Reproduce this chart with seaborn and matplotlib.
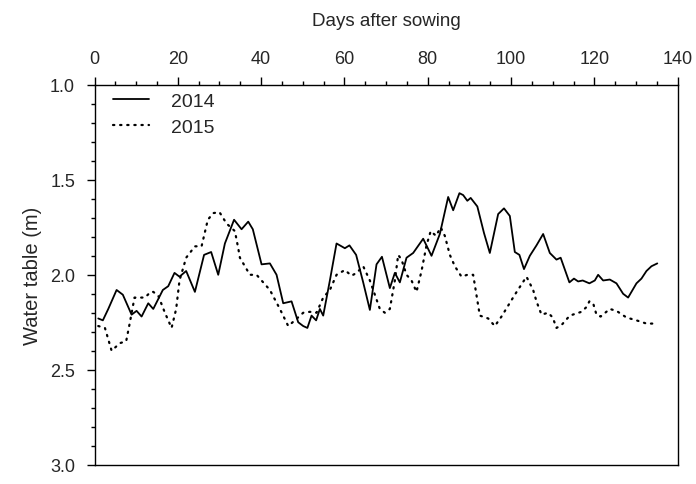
import matplotlib
matplotlib.use("Agg")
import matplotlib.pyplot as plt
from matplotlib.ticker import MultipleLocator
import seaborn as sns

# Water table depth (m) by days after sowing
days_2014 = [0.9, 2.0, 3.3, 5.3, 6.8, 8.9, 10.1, 11.3, 12.9, 14.1, 16.4, 17.7, 19.2, 20.4,
             22.0, 24.1, 26.3, 28.0, 29.7, 31.3, 33.5, 35.3, 36.9, 38.0, 40.1, 42.1, 43.7,
             45.3, 47.3, 48.9, 50.1, 51.1, 52.1, 53.2, 54.1, 54.9, 56.5, 58.1, 60.1, 61.2,
             62.8, 64.5, 66.1, 67.7, 69.0, 70.9, 72.1, 73.3, 74.9, 76.5, 78.9, 80.9, 82.9,
             84.9, 86.1, 87.6, 88.5, 89.5, 90.3, 91.9, 93.5, 94.9, 96.9, 98.3, 99.7, 100.9,
             102.0, 103.1, 104.5, 106.1, 107.7, 109.3, 110.9, 111.9, 114.0, 115.1, 116.1,
             117.2, 118.8, 120.1, 120.9, 122.1, 123.7, 125.3, 126.9, 128.1, 130.1, 131.3,
             132.5, 133.7, 135.1]
depth_2014 = [2.23, 2.24, 2.18, 2.08, 2.105, 2.21, 2.19, 2.22, 2.15, 2.18, 2.08, 2.06, 1.99, 2.01,
              1.98, 2.09, 1.895, 1.88, 2.00, 1.835, 1.71, 1.76, 1.72, 1.76, 1.945, 1.94, 2.00,
              2.15, 2.14, 2.25, 2.27, 2.28, 2.215, 2.24, 2.18, 2.215, 2.03, 1.835, 1.86, 1.845,
              1.895, 2.04, 2.185, 1.945, 1.905, 2.07, 1.99, 2.04, 1.91, 1.885, 1.81, 1.90, 1.785,
              1.59, 1.66, 1.57, 1.58, 1.61, 1.595, 1.64, 1.78, 1.885, 1.68, 1.65, 1.69, 1.88,
              1.895, 1.97, 1.90, 1.845, 1.785, 1.885, 1.92, 1.91, 2.04, 2.02, 2.035,
              2.03, 2.045, 2.03, 2.00, 2.03, 2.025, 2.045, 2.10, 2.12, 2.045, 2.02,
              1.98, 1.955, 1.94]

days_2015 = [0.9, 2.5, 4.1, 6.1, 7.6, 8.5, 9.6, 12.1, 13.5, 14.1, 15.3, 16.9, 18.5, 19.6,
             20.4, 22.0, 24.1, 25.7, 27.2, 28.5, 30.0, 31.7, 33.7, 34.5, 34.9, 37.3, 38.9,
             42.1, 44.5, 46.5, 48.1, 50.1, 51.7, 53.3, 54.9, 56.5, 58.1, 60.1, 61.7, 62.9,
             64.5, 66.1, 68.5, 69.7, 70.9, 72.1, 72.9, 73.7, 74.9, 76.1, 77.3, 78.5, 79.7,
             80.7, 82.0, 83.1, 84.1, 85.3, 86.5, 88.1, 89.5, 90.9, 92.5, 94.5, 96.1, 97.7,
             100.9, 103.7, 105.3, 106.1, 107.3, 108.9, 110.0, 110.9, 112.1, 114.1, 116.9,
             118.1, 118.8, 119.7, 120.5, 121.5, 123.7, 125.3, 127.7, 130.1, 132.5, 134.1]
depth_2015 = [2.27, 2.28, 2.40, 2.36, 2.35, 2.25, 2.12, 2.12, 2.09, 2.09, 2.11, 2.20, 2.28, 2.18,
              2.03, 1.91, 1.85, 1.85, 1.71, 1.675, 1.67, 1.73, 1.77, 1.86, 1.91, 2.00, 2.00,
              2.08, 2.18, 2.27, 2.24, 2.20, 2.195, 2.20, 2.12, 2.08, 2.00, 1.975, 2.005, 1.99,
              1.955, 2.03, 2.18, 2.20, 2.18, 2.03, 1.895, 1.92, 2.00, 2.03, 2.09, 1.98, 1.845,
              1.77, 1.795, 1.75, 1.795, 1.895, 1.955, 2.01, 2.00, 2.00, 2.215, 2.23, 2.27, 2.22,
              2.105, 2.01, 2.08, 2.14, 2.21, 2.20, 2.225, 2.28, 2.265, 2.215, 2.195,
              2.17, 2.14, 2.15, 2.21, 2.22, 2.18, 2.19, 2.225, 2.24, 2.257, 2.257]

x_ticks = [0, 20, 40, 60, 80, 100, 120, 140]
y_ticks = [1.0, 1.5, 2.0, 2.5, 3.0]

sns.set_theme(style="white")
plt.rcParams["font.family"] = ["Liberation Sans", "DejaVu Sans"]

fig = plt.figure(figsize=(6.96, 4.85), dpi=100)
ax = fig.add_axes([0.1358, 0.040, 0.8379, 0.7827])

sns.lineplot(x=days_2014, y=depth_2014, ax=ax, color="black", linewidth=1.3,
             label="2014", sort=False)
sns.lineplot(x=days_2015, y=depth_2015, ax=ax, color="black", linewidth=1.6,
             label="2015", sort=False, linestyle=(0, (0.6, 2.6)),
             dash_capstyle="round")

ax.set_xlim(0, 140)
ax.set_ylim(3.0, 1.0)
ax.set_xticks(x_ticks)
ax.set_yticks(y_ticks)
ax.set_yticklabels([f"{v:.1f}" for v in y_ticks])
ax.xaxis.set_minor_locator(MultipleLocator(5))
ax.yaxis.set_minor_locator(MultipleLocator(0.1))

ax.xaxis.tick_top()
ax.xaxis.set_label_position("top")
ax.set_xlabel("Days after sowing", fontsize=13.5, labelpad=18)
ax.set_ylabel("Water table (m)", fontsize=14.5, labelpad=6)

ax.tick_params(axis="both", which="major", direction="out", length=6, width=1,
               color="black", labelsize=13)
ax.tick_params(axis="x", which="major", pad=7)
ax.tick_params(axis="y", which="major", pad=8)
ax.tick_params(axis="both", which="minor", direction="out", length=3, width=1,
               color="black")
ax.tick_params(axis="x", which="both", top=True, bottom=False)
ax.tick_params(axis="y", which="both", left=True, right=False)

for side in ["top", "bottom", "left", "right"]:
    ax.spines[side].set_visible(True)
    ax.spines[side].set_color("black")
    ax.spines[side].set_linewidth(1.0)

leg = ax.legend(loc="upper left", frameon=False, fontsize=14, handlelength=1.9,
                handletextpad=1.1, borderaxespad=0.0, labelspacing=0.42,
                bbox_to_anchor=(0.0175, 1.001))

fig.savefig("out.png", dpi=100)
